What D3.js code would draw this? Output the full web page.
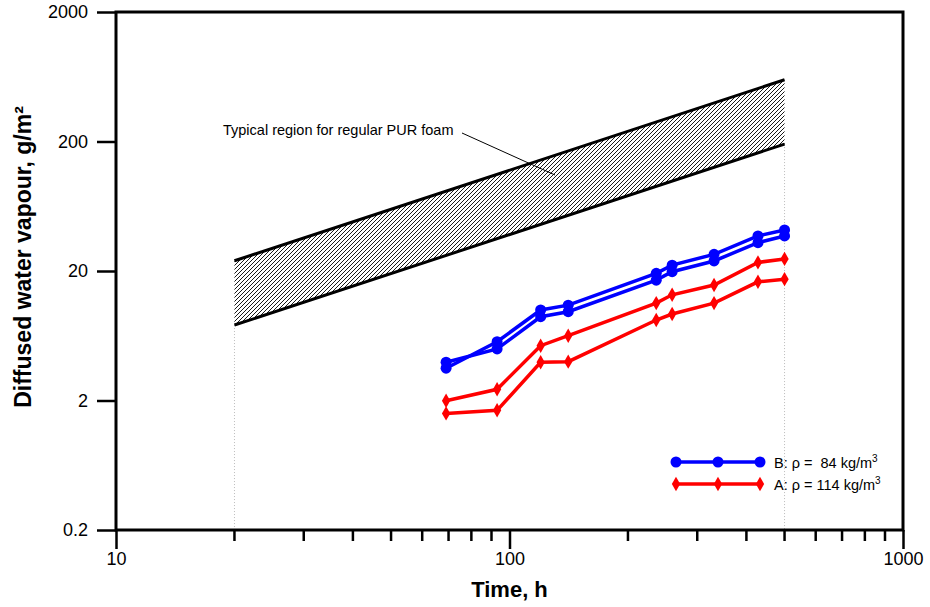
<!DOCTYPE html>
<html>
<head>
<meta charset="utf-8">
<script src="https://cdn.jsdelivr.net/npm/d3@7"></script>
<style>
  body { margin: 0; background: #fff; }
  text { font-family: "Liberation Sans", Arial, sans-serif; }
</style>
</head>
<body>
<script>
// measured times (h)
var times = [69, 93, 120, 141, 236, 259, 331, 428, 500];
// B: rho = 84 kg/m3, two samples
var b1 = [3.55, 5.69, 10.0, 10.9, 19.2, 22.2, 26.9, 37.3, 41.5];
var b2 = [3.95, 5.0, 8.87, 9.7, 17.0, 19.75, 23.9, 33.1, 37.3];
// A: rho = 114 kg/m3, two samples
var a1 = [1.99, 2.44, 5.3, 6.33, 11.3, 13.1, 15.6, 23.3, 24.8];
var a2 = [1.59, 1.68, 3.95, 3.99, 8.37, 9.31, 11.3, 16.5, 17.3];

// typical PUR region
var bandTimes = [20, 500];
var bandUpper = [24, 600];
var bandLower = [7.65, 191];

var yTicks = [0.2, 2, 20, 200, 2000];
var xMajor = [10, 100, 1000];
var xMinor = [20, 30, 40, 50, 60, 70, 80, 90, 200, 300, 400, 500, 600, 700, 800, 900];

var W = 930, H = 607;
var pLeft = 116, pRight = 903, pTop = 12, pBottom = 530;

var svg = d3.select("body").append("svg").attr("width", W).attr("height", H);

var x = d3.scaleLog().domain([10, 1000]).range([pLeft, pRight]);
var y = d3.scaleLog().domain([0.2, 2000]).range([pBottom, pTop]);

var defs = svg.append("defs");
var pat = defs.append("pattern")
  .attr("id", "hatch")
  .attr("patternUnits", "userSpaceOnUse")
  .attr("width", 4).attr("height", 4);
pat.append("path")
  .attr("d", "M-1,1 L1,-1 M0,4 L4,0 M3,5 L5,3")
  .attr("stroke", "#000").attr("stroke-width", 0.9);

// dotted guides at band ends
bandTimes.forEach(function (t, i) {
  svg.append("line")
    .attr("x1", x(t)).attr("x2", x(t))
    .attr("y1", y(bandLower[i])).attr("y2", pBottom)
    .attr("stroke", "#bbb").attr("stroke-width", 1)
    .attr("stroke-dasharray", "1,2");
});

// band
var bandData = bandTimes.map(function (t, i) {
  return { t: t, lo: bandLower[i], hi: bandUpper[i] };
});
svg.append("path")
  .datum(bandData)
  .attr("d", d3.area()
    .x(function (d) { return x(d.t); })
    .y0(function (d) { return y(d.lo); })
    .y1(function (d) { return y(d.hi); }))
  .attr("fill", "url(#hatch)");
[bandUpper, bandLower].forEach(function (arr) {
  svg.append("path")
    .datum(bandTimes.map(function (t, i) { return [t, arr[i]]; }))
    .attr("d", d3.line()
      .x(function (d) { return x(d[0]); })
      .y(function (d) { return y(d[1]); }))
    .attr("fill", "none").attr("stroke", "#000").attr("stroke-width", 3);
});

// annotation
svg.append("text")
  .attr("x", 223).attr("y", 135)
  .attr("font-size", 14.5)
  .text("Typical region for regular PUR foam");
svg.append("line")
  .attr("x1", 462).attr("y1", 133)
  .attr("x2", 555).attr("y2", 175)
  .attr("stroke", "#000").attr("stroke-width", 1);

// series
var line = d3.line()
  .x(function (d) { return x(d[0]); })
  .y(function (d) { return y(d[1]); });

function drawSeries(vals, color, shape) {
  var pts = times.map(function (t, i) { return [t, vals[i]]; });
  svg.append("path").datum(pts)
    .attr("d", line)
    .attr("fill", "none").attr("stroke", color).attr("stroke-width", 3.5);
  svg.append("g").selectAll("path").data(pts).enter().append("path")
    .attr("transform", function (d) { return "translate(" + x(d[0]) + "," + y(d[1]) + ")"; })
    .attr("d", d3.symbol().type(shape).size(shape === d3.symbolCircle ? 95 : 60))
    .attr("fill", color);
}
drawSeries(b1, "#0000ff", d3.symbolCircle);
drawSeries(b2, "#0000ff", d3.symbolCircle);
drawSeries(a1, "#ff0000", d3.symbolDiamond);
drawSeries(a2, "#ff0000", d3.symbolDiamond);

// legend
var legend = [
  { color: "#0000ff", shape: d3.symbolCircle, label: "B: \u03c1 =  84 kg/m", y: 462 },
  { color: "#ff0000", shape: d3.symbolDiamond, label: "A: \u03c1 = 114 kg/m", y: 484 }
];
legend.forEach(function (l) {
  svg.append("line")
    .attr("x1", 676).attr("x2", 760).attr("y1", l.y).attr("y2", l.y)
    .attr("stroke", l.color).attr("stroke-width", 3.5);
  [676, 718, 760].forEach(function (px) {
    svg.append("path")
      .attr("transform", "translate(" + px + "," + l.y + ")")
      .attr("d", d3.symbol().type(l.shape).size(l.shape === d3.symbolCircle ? 95 : 60))
      .attr("fill", l.color);
  });
  var t = svg.append("text")
    .attr("x", 774).attr("y", l.y + 5.5)
    .attr("font-size", 14.5)
    .style("white-space", "pre")
    .text(l.label);
  t.append("tspan").attr("dy", -6).attr("font-size", 10).text("3");
});

// axes
var xAxis = svg.append("g")
  .attr("transform", "translate(0," + pBottom + ")")
  .call(d3.axisBottom(x).tickValues(xMajor).tickSize(19).tickPadding(3)
    .tickFormat(d3.format("d")));
xAxis.select(".domain").remove();
xAxis.selectAll("line").attr("stroke-width", 2.5);
xAxis.selectAll("text").attr("font-size", 18).attr("fill", "#000")
  .attr("font-family", "Liberation Sans, Arial, sans-serif");

svg.append("g").selectAll("line").data(xMinor).enter().append("line")
  .attr("x1", function (d) { return x(d); }).attr("x2", function (d) { return x(d); })
  .attr("y1", pBottom).attr("y2", pBottom + 11)
  .attr("stroke", "#000").attr("stroke-width", 2.5);

var yAxis = svg.append("g")
  .attr("transform", "translate(" + pLeft + ",0)")
  .call(d3.axisLeft(y).tickValues(yTicks).tickSize(19).tickPadding(9)
    .tickFormat(function (d) { return String(d); }));
yAxis.select(".domain").remove();
yAxis.selectAll("line").attr("stroke-width", 2.5);
yAxis.selectAll("text").attr("font-size", 18).attr("fill", "#000")
  .attr("font-family", "Liberation Sans, Arial, sans-serif");

// frame
svg.append("rect")
  .attr("x", pLeft).attr("y", pTop)
  .attr("width", pRight - pLeft).attr("height", pBottom - pTop)
  .attr("fill", "none").attr("stroke", "#000").attr("stroke-width", 3);

// titles
svg.append("text")
  .attr("x", (pLeft + pRight) / 2).attr("y", 597)
  .attr("text-anchor", "middle")
  .attr("font-size", 22).attr("font-weight", "bold")
  .text("Time, h");

svg.append("text")
  .attr("transform", "translate(31,257) rotate(-90)")
  .attr("text-anchor", "middle")
  .attr("font-size", 23).attr("font-weight", "bold")
  .text("Diffused water vapour, g/m\u00b2");
</script>
</body>
</html>
